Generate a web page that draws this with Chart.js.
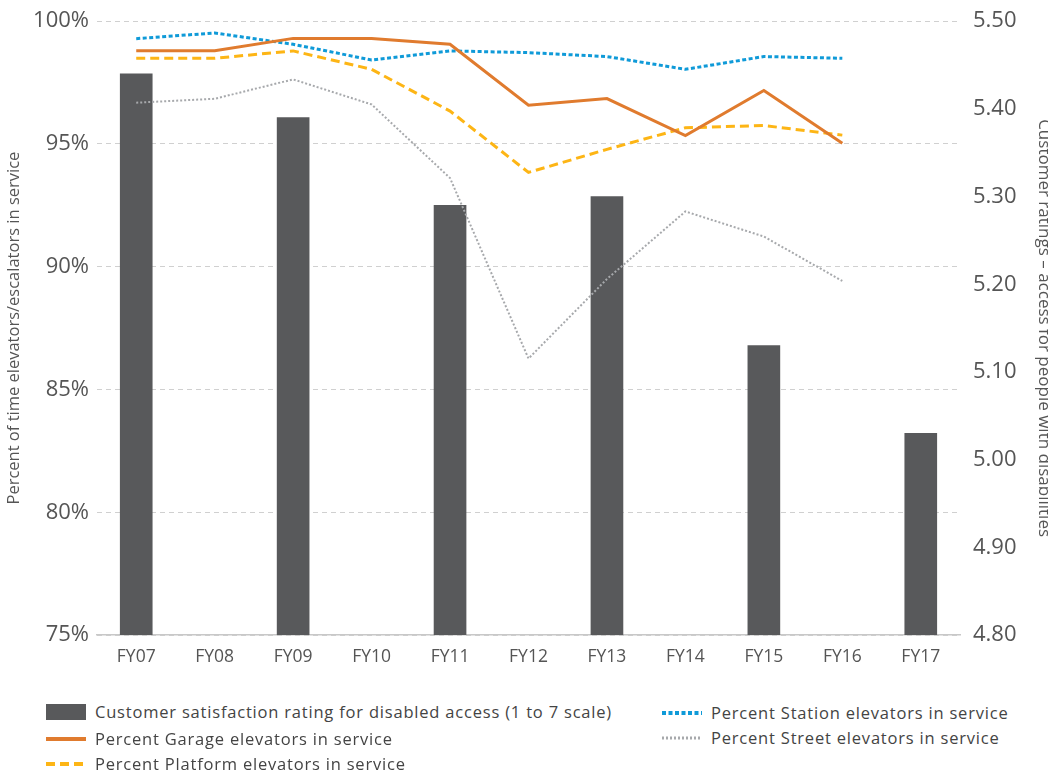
<!DOCTYPE html>
<html>
<head>
<meta charset="utf-8">
<script src="https://cdn.jsdelivr.net/npm/chart.js@4.4.1/dist/chart.umd.min.js"></script>
<style>
  html, body { margin: 0; padding: 0; background: #fff; overflow: hidden; }
  #wrap { position: relative; width: 1058px; height: 672px; }
  #legend { position: absolute; left: 0; top: 700px; width: 1048px; font-family: "Open Sans", "Noto Sans", sans-serif; font-size: 16.5px; letter-spacing: 0.8px; color: #444; }
  .item { position: absolute; display: flex; align-items: center; white-space: nowrap; }
  .sw { width: 40px; margin-right: 9px; }
</style>
</head>
<body>
<div id="wrap"><canvas id="myChart"></canvas></div>
<div id="legend"></div>
<script>
const years = ['FY07', 'FY08', 'FY09', 'FY10', 'FY11', 'FY12', 'FY13', 'FY14', 'FY15', 'FY16', 'FY17'];
const rating = [5.44, null, 5.39, null, 5.29, null, 5.30, null, 5.13, null, 5.03];
const garage = [98.8, 98.8, 99.3, 99.3, 99.06, 96.58, 96.85, 95.34, 97.18, 95.03, null];
const platform = [98.49, 98.49, 98.79, 98.04, 96.34, 93.84, 94.78, 95.66, 95.75, 95.36, null];
const station = [99.29, 99.52, 99.06, 98.42, 98.79, 98.72, 98.56, 98.04, 98.56, 98.49, null];
const street = [96.68, 96.84, 97.63, 96.61, 93.61, 86.26, 89.5, 92.25, 91.23, 89.42, null];

const fontFam = '"Open Sans", "Noto Sans", sans-serif';
const ctx = document.getElementById('myChart');

const chart = new Chart(ctx, {
  type: 'bar',
  data: {
    labels: years,
    datasets: [
      {
        label: 'Customer satisfaction rating for disabled access (1 to 7 scale)',
        data: rating,
        yAxisID: 'y1',
        backgroundColor: '#58595b',
        barThickness: 32,
        order: 5,
      },
      {
        type: 'line',
        label: 'Percent Garage elevators in service',
        data: garage,
        yAxisID: 'y',
        borderColor: '#e07b2e',
        borderWidth: 3,
        pointRadius: 0,
        tension: 0,
        order: 1,
      },
      {
        type: 'line',
        label: 'Percent Platform elevators in service',
        data: platform,
        yAxisID: 'y',
        borderColor: '#fdb515',
        borderWidth: 3,
        borderDash: [9, 5],
        pointRadius: 0,
        tension: 0,
        order: 1,
      },
      {
        type: 'line',
        label: 'Percent Station elevators in service',
        data: station,
        yAxisID: 'y',
        borderColor: '#0f9ad8',
        borderWidth: 3,
        borderDash: [4, 2.5],
        pointRadius: 0,
        tension: 0,
        order: 1,
      },
      {
        type: 'line',
        label: 'Percent Street elevators in service',
        data: street,
        yAxisID: 'y',
        borderColor: '#a7a9ac',
        borderWidth: 2,
        borderDash: [2, 2],
        pointRadius: 0,
        tension: 0,
        order: 1,
      },
    ],
  },
  options: {
    responsive: true,
    maintainAspectRatio: false,
    animation: false,
    layout: { padding: { top: 21, bottom: 0 } },
    plugins: {
      legend: { display: false },
      tooltip: { enabled: false },
    },
    scales: {
      x: {
        grid: { display: false },
        border: { color: '#c8c8c8', width: 1.5 },
        ticks: { color: '#555', font: { family: fontFam, size: 17.5 }, padding: 4 },
      },
      y: {
        position: 'left',
        min: 75,
        max: 100,
        ticks: {
          stepSize: 5,
          color: '#555',
          font: { family: fontFam, size: 22 },
          padding: 8,
          callback: (v) => v + '%',
        },
        grid: { color: '#d0d0d0', drawTicks: false },
        border: { display: false, dash: [5, 4] },
        title: {
          display: true,
          text: 'Percent of time elevators/escalators in service',
          color: '#555',
          font: { family: fontFam, size: 16.5 },
        },
        afterFit: (s) => { s.width = 97; },
      },
      y1: {
        position: 'right',
        min: 4.8,
        max: 5.5,
        ticks: {
          stepSize: 0.1,
          color: '#555',
          font: { family: fontFam, size: 22 },
          padding: 5,
          callback: (v) => v.toFixed(2),
        },
        grid: { display: false },
        border: { display: false },
        title: {
          display: true,
          text: 'Customer ratings – access for people with disabilities',
          color: '#555',
          font: { family: fontFam, size: 17 },
        },
        afterFit: (s) => { s.width = 98; },
      },
    },
  },
});

// legend built from the datasets, two columns like the original
const legendPos = [
  { left: 46, top: 10 },
  { left: 46, top: 37 },
  { left: 46, top: 62 },
  { left: 662, top: 11 },
  { left: 662, top: 36 },
];
const legend = document.getElementById('legend');
chart.data.datasets.forEach((ds, i) => {
  const item = document.createElement('div');
  item.className = 'item';
  item.style.left = legendPos[i].left + 'px';
  item.style.top = (legendPos[i].top - 10) + 'px';
  const sw = document.createElement('canvas');
  sw.className = 'sw';
  sw.width = 40; sw.height = 18;
  const c = sw.getContext('2d');
  if (ds.type === 'line') {
    c.strokeStyle = ds.borderColor;
    c.lineWidth = ds.borderWidth + 1;
    c.setLineDash(ds.borderDash || []);
    c.beginPath(); c.moveTo(0, 9); c.lineTo(40, 9); c.stroke();
  } else {
    c.fillStyle = ds.backgroundColor;
    c.fillRect(0, 1, 40, 16);
  }
  item.appendChild(sw);
  const t = document.createElement('span');
  t.textContent = ds.label;
  item.appendChild(t);
  legend.appendChild(item);
});
</script>
</body>
</html>
